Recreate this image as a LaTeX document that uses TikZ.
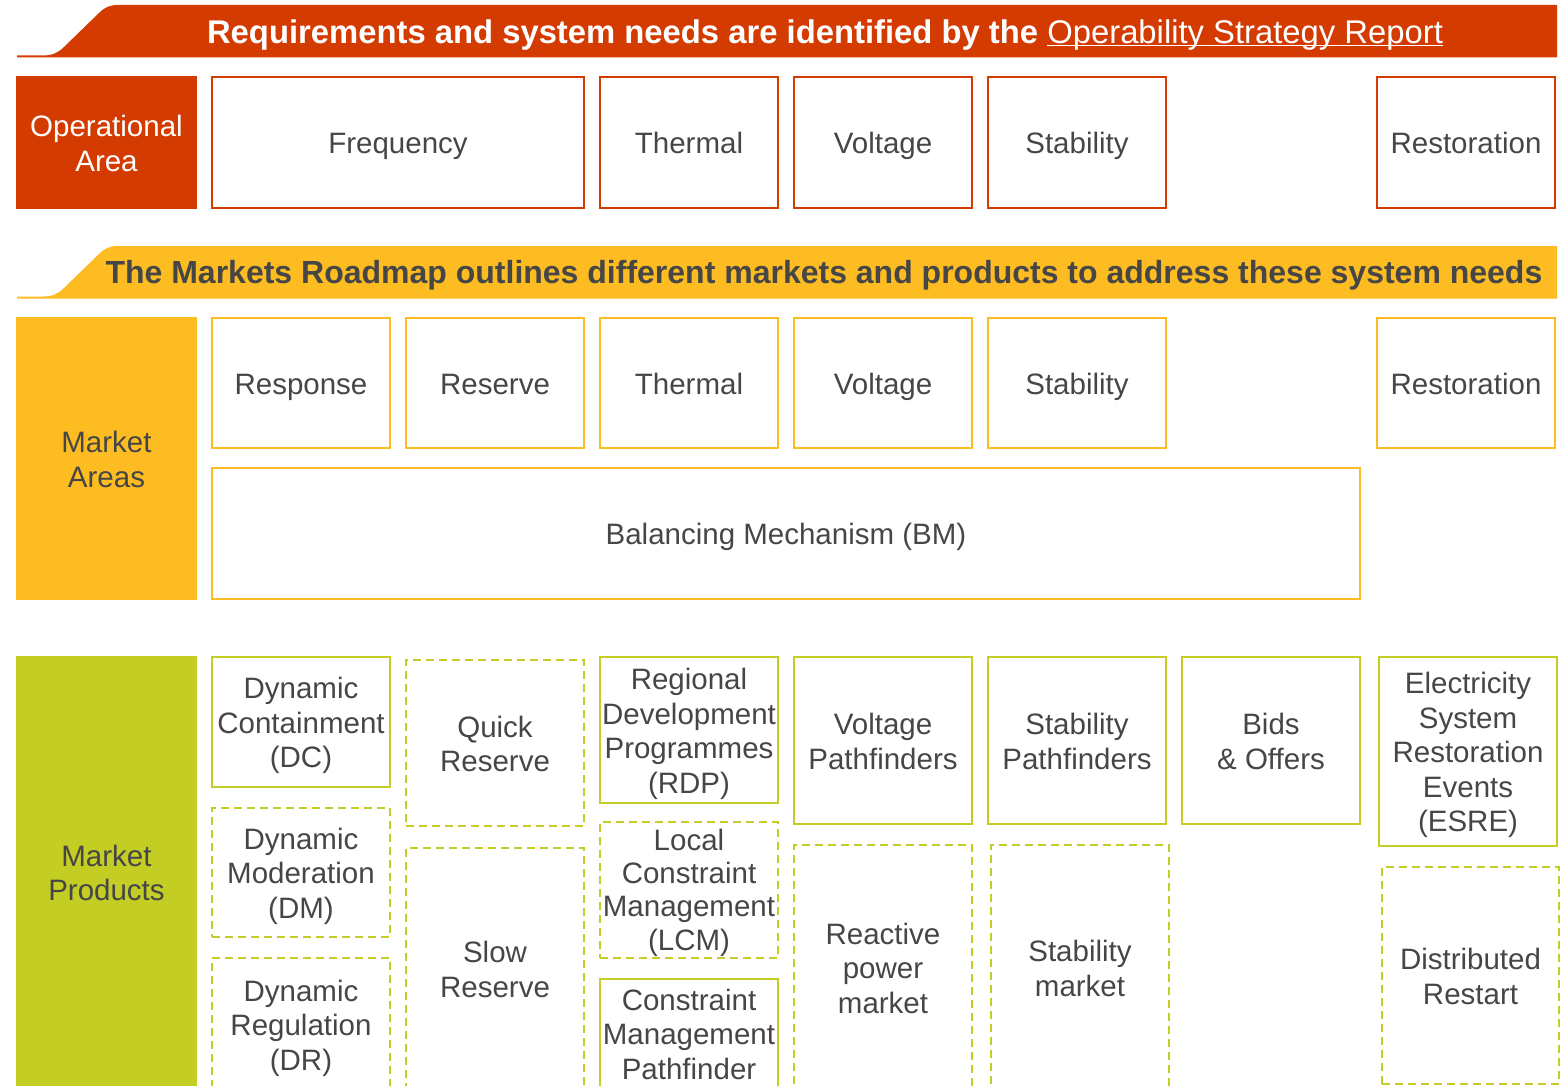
\documentclass[tikz,border=0pt]{standalone}
\usepackage{fontspec}
\setmainfont{Liberation Sans}
\definecolor{ngred}{HTML}{D43B00}
\definecolor{ngyel}{HTML}{FDBC22}
\definecolor{nggrn}{HTML}{C3CD24}
\definecolor{tgray}{HTML}{464646}
\newcommand\mystrut{\rule[-6.85pt]{0pt}{34.5pt}}
\newcommand\myul[1]{\setbox0\hbox{#1}\rlap{\rule[-3pt]{\wd0}{1.4pt}}\box0}
% #1 box style, #2 name, #3-#6 corners, #7 text shift down, #8 text options, #9 text
\newcommand\mybox[9]{\node[#1, minimum width={#5-#3}, minimum height={#6-#4}] (#2) at ({(#3+#5)/2},{(#4+#6)/2}) {};
  \node[txt, #8] (#2-t) at ([yshift=-#7pt]#2.center) {#9};}
\begin{document}
\begin{tikzpicture}[x=1pt,y=-1pt,
  txt/.style={font=\fontsize{29.5}{34.5}\selectfont, text=tgray, align=center, inner sep=0pt,
    execute at begin node=\mystrut, execute at end node=\mystrut},
  ttl/.style={font=\fontsize{32}{36}\selectfont\bfseries, inner sep=0pt, anchor=base},
  bx/.style={draw, line width=2.5pt, outer sep=0pt, inner sep=0pt},
  redbox/.style={bx, draw=ngred},
  yelbox/.style={bx, draw=ngyel},
  grnbox/.style={bx, draw=nggrn},
  grndash/.style={grnbox, dash pattern=on 8pt off 5pt},
  side/.style={outer sep=0pt, inner sep=0pt}
]
\useasboundingbox (0,0) rectangle (1563,1086);
\clip (0,0) rectangle (1563,1086);

% banners
\fill[ngred] (17,55.5) -- (43,55.5) .. controls (52,55.5) and (58,53) .. (64,47) -- (99,13) .. controls (105,7) and (110,5) .. (118,5) -- (1557,5) -- (1557,57.5) -- (17,57.5) -- cycle;
\node[ttl, text=white, font=\fontsize{32.8}{36}\selectfont\bfseries] (t1) at (825,43.5) {Requirements and system needs are identified by the \mdseries\myul{Operability Strategy Report}};

\fill[ngyel] (17,296.5) -- (43,296.5) .. controls (52,296.5) and (58,294) .. (64,288) -- (99,254) .. controls (105,248) and (110,246) .. (118,246) -- (1557,246) -- (1557,298.5) -- (17,298.5) -- cycle;
\node[ttl, text=tgray] (t2) at (824,283.5) {The Markets Roadmap outlines different markets and products to address these system needs};

% side labels
\mybox{side, fill=ngred}{oa}{16}{76}{197}{209}{4}{text=white}{Operational\\Area}
\mybox{side, fill=ngyel}{ma}{16}{317}{197}{600}{4}{}{Market\\Areas}
\mybox{side, fill=nggrn}{mp}{16}{656}{197}{1088}{4}{}{Market\\Products}

% row 1
\mybox{redbox}{freq}{212}{77}{584}{208}{1}{}{Frequency}
\mybox{redbox}{therm1}{600}{77}{778}{208}{1}{}{Thermal}
\mybox{redbox}{volt1}{794}{77}{972}{208}{1}{}{Voltage}
\mybox{redbox}{stab1}{988}{77}{1166}{208}{1}{}{Stability}
\mybox{redbox}{rest1}{1377}{77}{1555}{208}{1}{}{Restoration}

% row 2
\mybox{yelbox}{resp}{212}{318}{390}{448}{1}{}{Response}
\mybox{yelbox}{reserve}{406}{318}{584}{448}{1}{}{Reserve}
\mybox{yelbox}{therm2}{600}{318}{778}{448}{1}{}{Thermal}
\mybox{yelbox}{volt2}{794}{318}{972}{448}{1}{}{Voltage}
\mybox{yelbox}{stab2}{988}{318}{1166}{448}{1}{}{Stability}
\mybox{yelbox}{rest2}{1377}{318}{1555}{448}{1}{}{Restoration}
\mybox{yelbox}{bm}{212}{468}{1360}{599}{1}{}{Balancing Mechanism (BM)}

% row 3
\mybox{grnbox}{dc}{212}{657}{390}{787}{4}{}{Dynamic\\Containment\\(DC)}
\mybox{grndash}{qr}{406}{660}{584}{826}{4}{}{Quick\\Reserve}
\mybox{grnbox}{rdp}{600}{657}{778}{803}{4}{}{Regional\\Development\\Programmes\\(RDP)}
\mybox{grnbox}{vp}{794}{657}{972}{824}{4}{}{Voltage\\Pathfinders}
\mybox{grnbox}{sp}{988}{657}{1166}{824}{4}{}{Stability\\Pathfinders}
\mybox{grnbox}{bo}{1182}{657}{1360}{824}{4}{}{Bids\\\& Offers}
\mybox{grnbox}{esre}{1379}{657}{1557}{846}{4}{}{Electricity\\System\\Restoration\\Events\\(ESRE)}
\mybox{grndash}{dm}{212}{808}{390}{937}{4}{}{Dynamic\\Moderation\\(DM)}
\mybox{grndash}{dr}{212}{958}{390}{1091}{4}{}{Dynamic\\Regulation\\(DR)}
\mybox{grndash}{sr}{406}{848}{584}{1089}{4}{}{Slow\\Reserve}
\mybox{grndash}{lcm}{600}{822}{778}{958}{3}{font=\fontsize{29.5}{33.3}\selectfont}{Local\\Constraint\\Management\\(LCM)}
\mybox{grnbox}{cmp}{600}{979}{778}{1088}{4}{}{Constraint\\Management\\Pathfinder}
\mybox{grndash}{rpm}{794}{845}{972}{1090}{4}{}{Reactive\\power\\market}
\mybox{grndash}{sm}{991}{845}{1169}{1090}{4}{}{Stability\\market}
\mybox{grndash}{drs}{1382}{867}{1559}{1084}{4}{}{Distributed\\Restart}
\end{tikzpicture}
\end{document}
